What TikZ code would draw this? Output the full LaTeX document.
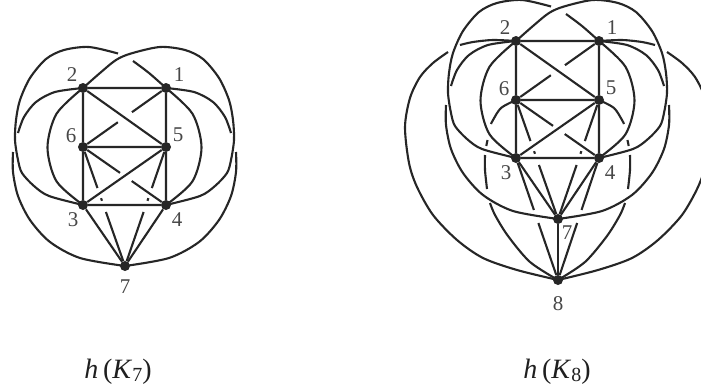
\documentclass[tikz,border=0pt]{standalone}
\usepackage{fontspec}
\setmainfont{Liberation Serif}
\usetikzlibrary{calc}
\tikzset{
  vtx/.style={circle, fill=black!85, draw=none, inner sep=0pt, minimum size=10pt},
  edge/.style={draw=black!85, line width=2.1pt},
  lbl/.style={text=black!72, font=\fontsize{21}{21}\selectfont, inner sep=0pt},
  captext/.style={font=\fontsize{28}{28}\selectfont, inner sep=0pt, text=black!88},
}
\newcommand{\corepart}{%
  \node[vtx] (1) at (166,88) {};
  \node[vtx] (2) at (83,88) {};
  \node[vtx] (5) at (166,147) {};
  \node[vtx] (6) at (83,147) {};
  \node[vtx] (3) at (83,205) {};
  \node[vtx] (4) at (166,205) {};
  \node[vtx] (7) at (125,266) {};
  \node[lbl] (l1) at (179,75) {1};
  \node[lbl] (l2) at (72,75) {2};
  \node[lbl] (l5) at (178,135) {5};
  \node[lbl] (l6) at (71,136) {6};
  \node[lbl] (l3) at (73,220) {3};
  \node[lbl] (l4) at (177,220) {4};
  % straight edges
  \draw[edge] (2) -- (1) (2) -- (6) (6) -- (3) (1) -- (5) (5) -- (4)
              (6) -- (5) (3) -- (4) (2) -- (5) (5) -- (3) (3) -- (7) (4) -- (7);
  \draw[edge] (1) -- ($(1)!0.41!(6)$) ($(1)!0.58!(6)$) -- (6);
  \draw[edge] (6) -- ($(6)!0.446!(4)$) ($(6)!0.587!(4)$) -- (4);
  \draw[edge] (6) -- ($(6)!0.345!(7)$) ($(6)!0.43!(7)$) -- ($(6)!0.452!(7)$) ($(6)!0.546!(7)$) -- (7);
  \draw[edge] (5) -- ($(5)!0.345!(7)$) ($(5)!0.43!(7)$) -- ($(5)!0.452!(7)$) ($(5)!0.546!(7)$) -- (7);
  % inner arcs
  \draw[edge] plot[smooth] coordinates {(2.center) (56.5,113.8) (47.5,147.5) (56.5,181.3) (3.center)};
  \draw[edge] plot[smooth] coordinates {(1.center) (192.5,113.8) (201.5,147.5) (192.5,181.3) (4.center)};
  % 1-3 (broken at top)
  \draw[edge] plot[smooth] coordinates {(1.center) (149,73) (133,61)};
  \draw[edge] plot[smooth] coordinates {(118,53.5) (89,47) (64,50) (46,59) (30,78) (20,100) (16,120) (15,140) (18,160) (22,173) (34,186) (49,196) (3.center)};
  % 2-4
  \draw[edge] plot[smooth] coordinates {(2.center) (100,73) (116,60) (131,53.5) (160,47) (185,50) (203,59) (219,78) (229,100) (233,120) (234,140) (231,160) (227,173) (215,186) (200,196) (4.center)};
  % 2-7
  \draw[edge] plot[smooth] coordinates {(2.center) (55,92) (36,102) (24,117) (18,133)};
  \draw[edge] plot[smooth] coordinates {(13,152) (13,172) (18,196) (30,220) (50,242) (80,258) (7.center)};
  % 1-7
  \draw[edge] plot[smooth] coordinates {(1.center) (194,92) (213,102) (225,117) (231,133)};
  \draw[edge] plot[smooth] coordinates {(236,152) (236,172) (231,196) (219,220) (199,242) (169,258) (7.center)};
}
\begin{document}
\begin{tikzpicture}[x=1pt, y=-1pt]
  \fill[white] (0,0) rectangle (701,388);
  \useasboundingbox (0,0) rectangle (701,388);
  % ---- h(K7) ----
  \begin{scope}[name prefix=L-]
    \corepart
    \node[lbl] (l7) at (125,287) {7};
  \end{scope}
  % ---- h(K8) ----
  \begin{scope}[shift={(433,-47)}, name prefix=R-]
    \corepart
    \node[vtx] (8) at (125,327) {};
    \node[lbl] (l7) at (134,280) {7};
    \node[lbl] (l8) at (125,351) {8};
    \draw[edge] (7) -- (8);
    \draw[edge] (3) -- ($(3)!0.426!(8)$) ($(3)!0.533!(8)$) -- (8);
    \draw[edge] (4) -- ($(4)!0.426!(8)$) ($(4)!0.533!(8)$) -- (8);
    % 2-8
    \draw[edge] plot[smooth] coordinates {(2.center) (60,87) (40,89) (27,92)};
    \draw[edge] plot[smooth] coordinates {(15,99) (0,110) (-13,124) (-23,145) (-28,174) (-24,210) (-16,234) (0,262) (24,287) (50,305) (84,317) (8.center)};
    % 1-8
    \draw[edge] plot[smooth] coordinates {(1.center) (189,87) (209,89) (222,92)};
    \draw[edge] plot[smooth] coordinates {(234,99) (249,110) (262,124) (272,145) (277,174) (273,210) (265,234) (249,262) (225,287) (199,305) (165,317) (8.center)};
    % 6-8
    \draw[edge] plot[smooth] coordinates {(6.center) (68,155) (60,167) (58,171)};
    \draw[edge] plot[smooth] coordinates {(54.5,187) (53.3,193)};
    \draw[edge] plot[smooth] coordinates {(52,202) (52,217) (54,236)};
    \draw[edge] plot[smooth] coordinates {(57,250) (62,262) (75,283) (97,309) (8.center)};
    % 5-8
    \draw[edge] plot[smooth] coordinates {(5.center) (181,155) (189,167) (191,171)};
    \draw[edge] plot[smooth] coordinates {(194.5,187) (195.7,193)};
    \draw[edge] plot[smooth] coordinates {(197,202) (197,217) (195,236)};
    \draw[edge] plot[smooth] coordinates {(192,250) (187,262) (174,283) (152,309) (8.center)};
  \end{scope}
  % captions
  \node[captext] (c7) at (118,372) {\textit{h}\,(\textit{K}\raisebox{-2.5pt}{\fontsize{20}{20}\selectfont 7})};
  \node[captext] (c8) at (557,372) {\textit{h}\,(\textit{K}\raisebox{-2.5pt}{\fontsize{20}{20}\selectfont 8})};
\end{tikzpicture}
\end{document}
